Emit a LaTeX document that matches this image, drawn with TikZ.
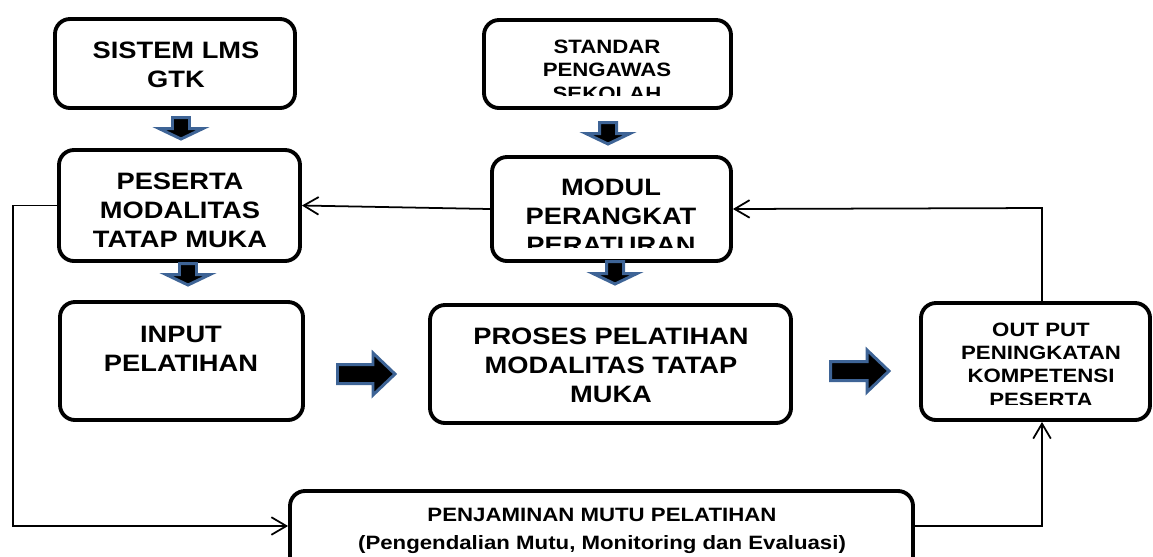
\documentclass[tikz,border=0pt]{standalone}
\usepackage{fontspec}
\setmainfont{Liberation Sans}
\usepackage{graphicx}
\usetikzlibrary{arrows.meta,fit}
\definecolor{arrowblue}{RGB}{62,100,150}

% one line of box text, widened a little
\newcommand{\wideline}[1]{\scalebox{1.15}[1]{#1}}

% thick block arrow pointing down: centre x, top y, tip y
\newcommand{\blkdown}[3]{%
  \draw[blockarrow] ({#1-8.5},{#2+1.5}) -- ({#1+8.5},{#2+1.5}) -- ({#1+8.5},{#3-12.5})
    -- ({#1+22},{#3-12.5}) -- (#1,{#3-2}) -- ({#1-22},{#3-12.5}) -- ({#1-8.5},{#3-12.5}) -- cycle;}

% thick block arrow pointing right: left x, tip x, centre y
\newcommand{\blkright}[3]{%
  \draw[blockarrow] ({#1+1.5},{#3-9.5}) -- ({#2-24},{#3-9.5}) -- ({#2-24},{#3-21})
    -- ({#2-2},#3) -- ({#2-24},{#3+21}) -- ({#2-24},{#3+9.5}) -- ({#1+1.5},{#3+9.5}) -- cycle;}

\begin{document}
\begin{tikzpicture}[x=0.02cm,y=-0.02cm,
  box/.style={draw, line width=2.2pt, rounded corners=0.3cm, inner sep=0pt, fill=white},
  txt/.style={align=center, anchor=base, inner sep=0pt},
  big/.style={txt, font=\fontsize{13.5}{16.4}\selectfont\bfseries},
  small/.style={txt, font=\fontsize{11}{13.2}\selectfont\bfseries},
  conn/.style={line width=1pt},
  tip/.style={-{Straight Barb[length=8.5pt,width=10pt,line width=1pt]}},
  blockarrow/.style={draw=arrowblue, fill=black, line width=1.7pt, line join=miter},
]
\useasboundingbox (0,0) rectangle (1153,556);
\clip (0,0) rectangle (1153,556);

% boxes
\node[box, fit={(55,19) (295,108)}] (sistem) {};
\node[box, fit={(59,150) (300,261)}] (peserta) {};
\node[box, fit={(60,302) (303,420)}] (input) {};
\node[box, fit={(484,20) (731,108)}] (standar) {};
\node[box, fit={(492,157) (731,261)}] (modul) {};
\node[box, fit={(430,305) (791,423)}] (proses) {};
\node[box, fit={(921,303) (1150,420)}] (output) {};
\node[box, fit={(290,491) (913,600)}] (penjamin) {};

% box texts (placed at the baseline of their last line)
\node[big] (sistemtext) at (176,87) {\wideline{SISTEM LMS}\\\wideline{GTK}};
\node[big] (pesertatext) at (180,247) {\wideline{PESERTA}\\\wideline{MODALITAS}\\\wideline{TATAP MUKA}};
\node[big] (inputtext) at (181,371) {\wideline{INPUT}\\\wideline{PELATIHAN}};
\node[big] (prosestext) at (611,402) {\wideline{PROSES PELATIHAN}\\\wideline{MODALITAS TATAP}\\\wideline{MUKA}};
\begin{scope}
  \clip (484,20) rectangle (731,95);
  \node[small] (standartext) at (607,100) {\wideline{STANDAR}\\\wideline{PENGAWAS}\\\wideline{SEKOLAH}};
\end{scope}
\begin{scope}
  \clip (492,157) rectangle (731,247);
  \node[big] (modultext) at (611,253) {\wideline{MODUL}\\\wideline{PERANGKAT}\\\wideline{PERATURAN}};
\end{scope}
\begin{scope}
  \clip (921,303) rectangle (1150,404);
  \node[small] (outputtext) at (1041,406) {\wideline{OUT PUT}\\\wideline{PENINGKATAN}\\\wideline{KOMPETENSI}\\\wideline{PESERTA}};
\end{scope}
\begin{scope}
  \clip (290,491) rectangle (913,553);
  \node[small, font=\fontsize{11}{15.9}\selectfont\bfseries] (penjamintext) at (602,549)
    {\wideline{PENJAMINAN MUTU PELATIHAN}\\\wideline{(Pengendalian Mutu, Monitoring dan Evaluasi)}};
\end{scope}

% block arrows
\blkdown{181}{116}{141}
\blkdown{188}{262}{287}
\blkdown{608}{121}{146}
\blkdown{615}{260}{286}
\blkright{336}{397}{374}
\blkright{829}{891}{371}

% feedback connectors
\coordinate (rx) at (1042,208);
\coordinate (lx) at (13,526);
\draw[conn, tip] (modul.west) -- (peserta.east);
\draw[conn, tip] (output.north -| rx) -- (rx) -- (modul.east);
\draw[conn, tip] (peserta.west) -| (lx) -- (penjamin.west |- lx);
\draw[conn, tip] (penjamin.east |- lx) -| (output.south -| rx);
\end{tikzpicture}
\end{document}
